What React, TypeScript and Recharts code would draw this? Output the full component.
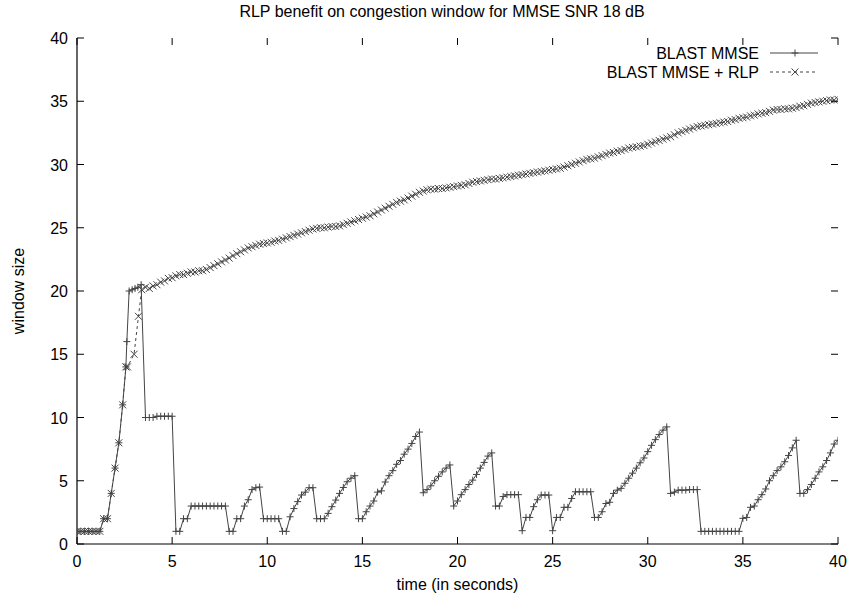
import React from 'react';
import { LineChart, Line, XAxis, YAxis, Legend } from 'recharts';

// ---------- axes ----------
const xTicks = [0, 5, 10, 15, 20, 25, 30, 35, 40];
const yTicks = [0, 5, 10, 15, 20, 25, 30, 35, 40];

// sampling interval of the trace (seconds)
const SAMPLE_STEP = 0.2;

// ---------- shared slow start (both runs) ----------
const slowStartTime = [0, 0.2, 0.4, 0.6, 0.8, 1.0, 1.2, 1.4, 1.6, 1.8, 2.0, 2.2, 2.4, 2.57];
const slowStartWindow = [1, 1, 1, 1, 1, 1, 1, 2, 2, 4, 6, 8, 11, 14];

// ---------- BLAST MMSE ----------
const mmseBurstTime = [2.62, 2.74, 2.9, 3.05, 3.2, 3.37];
const mmseBurstWindow = [16, 20, 20.1, 20.2, 20.3, 20.5];
const mmseGridStart = 3.6;
const mmseWindow = [
  10, 10,
  10, 10.1, 10.1, 10.1, 10.1,
  10.1, 1, 1, 2, 2,
  3, 3, 3, 3, 3,
  3, 3, 3, 3, 3,
  1, 1, 2, 2, 3,
  3.5, 4.3, 4.45, 4.5, 2,
  2, 2, 2, 2, 1,
  1, 2.15, 2.8, 3.35, 3.87,
  4.1, 4.45, 4.45, 2, 2,
  2, 2.42, 2.95, 3.47, 4.0,
  4.47, 4.92, 5.2, 5.4, 2,
  2, 2.55, 3.0, 3.4, 4.1,
  4.2, 4.9, 5.4, 5.8, 6.3,
  6.6, 7.1, 7.5, 7.95, 8.5,
  8.85, 4.05, 4.3, 4.6, 5.0,
  5.35, 5.7, 6.0, 6.25, 3.0,
  3.4, 3.9, 4.3, 4.7, 5.05,
  5.5, 6.0, 6.45, 6.95, 7.2,
  3.0, 3.0, 3.75, 3.9, 3.9,
  3.9, 3.9, 1.05, 2.1, 2.1,
  2.95, 3.5, 3.87, 3.87, 3.87,
  1.05, 2.1, 2.1, 2.9, 2.9,
  3.6, 4.13, 4.13, 4.13, 4.13,
  4.13, 2.1, 2.1, 2.55, 3.2,
  3.3, 4.0, 4.26, 4.4, 4.8,
  5.2, 5.6, 6.0, 6.42, 6.8,
  7.3, 7.8, 8.25, 8.65, 9.0,
  9.26, 4.0, 4.1, 4.26, 4.26,
  4.26, 4.3, 4.3, 4.3, 1,
  1, 1, 1, 1, 1,
  1, 1, 1, 1, 1,
  2.03, 2.1, 2.9, 3.0, 3.5,
  3.9, 4.35, 5.0, 5.4, 5.8,
  6.1, 6.5, 7.0, 7.6, 8.2,
  4.0, 4.0, 4.3, 4.7, 5.2,
  5.7, 6.1, 6.6, 7.2, 7.9,
  8.2,
];

// ---------- BLAST MMSE + RLP ----------
const rlpBurstTime = [2.65, 3.0, 3.23];
const rlpBurstWindow = [14, 15, 18];
const rlpGridStart = 3.4;
const rlpWindow = [
  20.1, 20.3, 20.2,
  20.4, 20.5, 20.7, 20.8, 21.0,
  21.05, 21.2, 21.3, 21.3, 21.4,
  21.5, 21.5, 21.6, 21.6, 21.7,
  21.85, 22.0, 22.15, 22.3, 22.45,
  22.6, 22.8, 22.95, 23.1, 23.25,
  23.4, 23.5, 23.6, 23.7, 23.75,
  23.8, 23.85, 23.95, 24.0, 24.1,
  24.2, 24.3, 24.4, 24.5, 24.6,
  24.7, 24.8, 24.9, 24.95, 25.0,
  25.0, 25.05, 25.1, 25.1, 25.15,
  25.25, 25.35, 25.45, 25.55, 25.65,
  25.75, 25.85, 25.95, 26.1, 26.25,
  26.4, 26.55, 26.7, 26.85, 27.0,
  27.1, 27.2, 27.35, 27.5, 27.65,
  27.8, 27.9, 28.0, 28.05, 28.05,
  28.1, 28.1, 28.15, 28.2, 28.25,
  28.3, 28.35, 28.4, 28.5, 28.6,
  28.65, 28.7, 28.75, 28.8, 28.85,
  28.85, 28.9, 28.95, 29.0, 29.05,
  29.1, 29.15, 29.2, 29.25, 29.3,
  29.35, 29.4, 29.45, 29.5, 29.55,
  29.6, 29.65, 29.7, 29.8, 29.9,
  30.0, 30.1, 30.2, 30.3, 30.4,
  30.45, 30.5, 30.6, 30.7, 30.8,
  30.9, 30.95, 31.05, 31.1, 31.2,
  31.3, 31.35, 31.4, 31.45, 31.5,
  31.6, 31.7, 31.8, 31.9, 32.0,
  32.1, 32.2, 32.35, 32.5, 32.6,
  32.7, 32.8, 32.9, 33.0, 33.05,
  33.1, 33.15, 33.2, 33.25, 33.3,
  33.35, 33.4, 33.5, 33.55, 33.65,
  33.7, 33.75, 33.85, 33.9, 34.0,
  34.05, 34.1, 34.2, 34.3, 34.35,
  34.35, 34.4, 34.4, 34.45, 34.5,
  34.6, 34.65, 34.75, 34.85, 34.9,
  34.95, 35.0, 35.05, 35.1, 35.1,
  35.15,
];

// ---------- build series ----------
type Pt = { t: number; w: number };
const pairs = (ts: number[], ws: number[]): Pt[] => ts.map((t, i) => ({ t, w: ws[i] }));
const gridded = (start: number, ws: number[]): Pt[] =>
  ws.map((w, i) => ({ t: Math.round((start + i * SAMPLE_STEP) * 100) / 100, w }));

const mmseData: Pt[] = [
  ...pairs(slowStartTime, slowStartWindow),
  ...pairs(mmseBurstTime, mmseBurstWindow),
  ...gridded(mmseGridStart, mmseWindow),
];
const rlpData: Pt[] = [
  ...pairs(slowStartTime, slowStartWindow),
  ...pairs(rlpBurstTime, rlpBurstWindow),
  ...gridded(rlpGridStart, rlpWindow),
];

// ---------- layout / style ----------
const FONT = '"Liberation Sans", Arial, Helvetica, sans-serif';
const INK = '#000';
const LINE = '#444';
const MS = 3.5;
const CHART_W = 848;
const CHART_H = 596;
const M_TOP = 38;
const M_RIGHT = 10;
const Y_AXIS_W = 77;
const X_AXIS_H = 52;
const PLOT_W = CHART_W - M_RIGHT - Y_AXIS_W;
const PLOT_H = CHART_H - M_TOP - X_AXIS_H;
const TICK = 7;

const PlusDot = (p: any) => {
  const { cx, cy, index } = p;
  if (cx == null || cy == null) return <g key={`p${index}`} />;
  return (
    <path key={`p${index}`} d={`M${cx - MS},${cy}H${cx + MS}M${cx},${cy - MS}V${cy + MS}`}
      stroke={LINE} strokeWidth={1} fill="none" />
  );
};
const CrossDot = (p: any) => {
  const { cx, cy, index } = p;
  if (cx == null || cy == null) return <g key={`x${index}`} />;
  return (
    <path key={`x${index}`}
      d={`M${cx - MS},${cy - MS}L${cx + MS},${cy + MS}M${cx - MS},${cy + MS}L${cx + MS},${cy - MS}`}
      stroke={LINE} strokeWidth={1} fill="none" />
  );
};

// bottom tick: inward tick, mirrored tick on the top border, label below
const BottomTick = (p: any) => {
  const { x, y, payload } = p;
  return (
    <g>
      <line x1={x} x2={x} y1={y} y2={y - TICK} stroke={INK} strokeWidth={1} />
      <line x1={x} x2={x} y1={y - PLOT_H} y2={y - PLOT_H + TICK} stroke={INK} strokeWidth={1} />
      <text x={x} y={y + 23} textAnchor="middle" fontSize={16} fontFamily={FONT} fill={INK}>
        {payload.value}
      </text>
    </g>
  );
};
// left tick: inward tick, mirrored tick on the right border, label to the left
const LeftTick = (p: any) => {
  const { x, y, payload } = p;
  return (
    <g>
      <line x1={x} x2={x + TICK} y1={y} y2={y} stroke={INK} strokeWidth={1} />
      <line x1={x + PLOT_W} x2={x + PLOT_W - TICK} y1={y} y2={y} stroke={INK} strokeWidth={1} />
      <text x={x - 9} y={y + 6} textAnchor="end" fontSize={16} fontFamily={FONT} fill={INK}>
        {payload.value}
      </text>
    </g>
  );
};

const renderLegend = () => (
  <svg width={280} height={48} style={{ display: 'block' }}>
    <g fontFamily={FONT} fontSize={16} fill={INK}>
      <text x={203} y={21} textAnchor="end">BLAST MMSE</text>
      <text x={203} y={40} textAnchor="end">BLAST MMSE + RLP</text>
    </g>
    <line x1={214} x2={262} y1={15} y2={15} stroke={LINE} strokeWidth={1} />
    <path d={`M${239 - MS},15H${239 + MS}M239,${15 - MS}V${15 + MS}`} stroke={LINE} strokeWidth={1} />
    <line x1={214} x2={262} y1={34} y2={34} stroke={LINE} strokeWidth={1} strokeDasharray="3 3" />
    <path d={`M${239 - MS},${34 - MS}L${239 + MS},${34 + MS}M${239 - MS},${34 + MS}L${239 + MS},${34 - MS}`}
      stroke={LINE} strokeWidth={1} />
  </svg>
);

export default function App() {
  return (
    <div style={{ position: 'absolute', left: 0, top: 0, width: CHART_W, height: CHART_H, background: '#fff' }}>
      <div style={{
        position: 'absolute', left: 0, top: 3, width: 884, textAlign: 'center',
        fontFamily: FONT, fontSize: 16, color: INK, lineHeight: '18px',
      }}>
        RLP benefit on congestion window for MMSE SNR 18 dB
      </div>
      <LineChart width={CHART_W} height={CHART_H} margin={{ top: M_TOP, right: M_RIGHT, bottom: 0, left: 0 }}>
        <XAxis xAxisId="bottom" dataKey="t" type="number" domain={[0, 40]} ticks={xTicks}
          allowDataOverflow height={X_AXIS_H} tickSize={0} tickMargin={0} tickLine={false}
          tick={<BottomTick />} axisLine={{ stroke: INK, strokeWidth: 1.2 }} interval={0}
          label={{
            content: (lp: any) => {
              const vb = lp.viewBox || { x: Y_AXIS_W, y: M_TOP + PLOT_H, width: PLOT_W };
              return (
                <text x={vb.x + vb.width / 2} y={vb.y + 46} textAnchor="middle" fontSize={16}
                  fontFamily={FONT} fill={INK}>time (in seconds)</text>
              );
            },
          }} />
        <XAxis xAxisId="top" orientation="top" dataKey="t" type="number" domain={[0, 40]} ticks={xTicks}
          allowDataOverflow height={0} tick={false} tickLine={false}
          axisLine={{ stroke: INK, strokeWidth: 1.2 }} />
        <YAxis yAxisId="left" type="number" domain={[0, 40]} ticks={yTicks} allowDataOverflow
          width={Y_AXIS_W} tickSize={0} tickMargin={0} tickLine={false} tick={<LeftTick />}
          axisLine={{ stroke: INK, strokeWidth: 1.2 }} interval={0}
          label={{
            content: (lp: any) => {
              const vb = lp.viewBox || { x: 0, y: M_TOP, height: PLOT_H };
              const cx = 18;
              const cy = vb.y + vb.height / 2;
              return (
                <text x={cx} y={cy} transform={`rotate(-90 ${cx} ${cy})`} textAnchor="middle"
                  dominantBaseline="central" fontSize={16} fontFamily={FONT} fill={INK}>window size</text>
              );
            },
          }} />
        <YAxis yAxisId="right" orientation="right" type="number" domain={[0, 40]} ticks={yTicks}
          allowDataOverflow width={0} tick={false} tickLine={false}
          axisLine={{ stroke: INK, strokeWidth: 1.2 }} />
        <Legend layout="vertical" align="center" verticalAlign="middle" content={renderLegend}
          wrapperStyle={{ position: 'absolute', left: 556, top: 38, width: 280, height: 48 }} />
        <Line xAxisId="bottom" yAxisId="left" data={rlpData} dataKey="w" type="linear"
          stroke={LINE} strokeWidth={1} strokeDasharray="3 3" dot={CrossDot}
          activeDot={false} isAnimationActive={false} name="BLAST MMSE + RLP" />
        <Line xAxisId="bottom" yAxisId="left" data={mmseData} dataKey="w" type="linear"
          stroke={LINE} strokeWidth={1} dot={PlusDot}
          activeDot={false} isAnimationActive={false} name="BLAST MMSE" />
      </LineChart>
    </div>
  );
}
